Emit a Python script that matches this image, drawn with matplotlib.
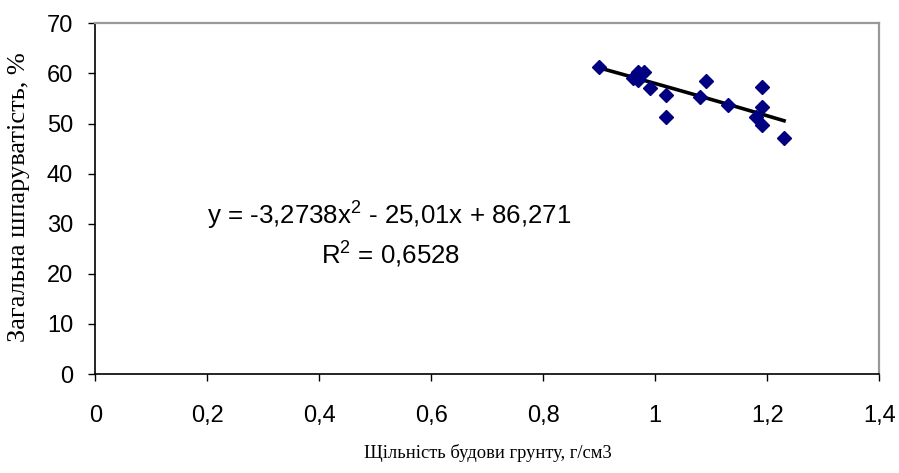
import numpy as np
import matplotlib.pyplot as plt

# щільність будови (г/см3) і загальна шпаруватість (%)
density = [0.90, 0.96, 0.97, 0.97, 0.98, 0.99, 1.02, 1.02, 1.08, 1.09,
           1.13, 1.18, 1.19, 1.19, 1.19, 1.23]
porosity = [61.3, 59.0, 58.6, 60.2, 60.2, 57.1, 55.7, 51.4, 55.3, 58.5,
            53.7, 51.4, 57.3, 53.3, 49.7, 47.2]

# коефіцієнти поліноміального тренду
coef = [-3.2738, -25.01, 86.271]
r2 = 0.6528

x_ticks = [0, 0.2, 0.4, 0.6, 0.8, 1, 1.2, 1.4]
x_labels = ['0', '0,2', '0,4', '0,6', '0,8', '1', '1,2', '1,4']
y_ticks = [0, 10, 20, 30, 40, 50, 60, 70]

plt.rcParams['mathtext.fontset'] = 'custom'
plt.rcParams['mathtext.rm'] = 'Liberation Sans'
plt.rcParams['mathtext.it'] = 'Liberation Sans'

fig = plt.figure(figsize=(8.99, 4.73), dpi=100)
ax = fig.add_axes([0.106, 0.2093, 0.872, 0.7414])

ax.plot(density, porosity, 'D', color='#000080', markersize=7, zorder=3)

xt = np.linspace(min(density), max(density), 50)
ax.plot(xt, np.polyval(coef, xt), color='black', lw=2.6, zorder=2)

ax.set_xlim(0, 1.4)
ax.set_ylim(0, 70)
ax.set_xticks(x_ticks)
ax.set_xticklabels(x_labels)
ax.set_yticks(y_ticks)
for lab in ax.get_xticklabels() + ax.get_yticklabels():
    lab.set_fontfamily('Liberation Sans')
    lab.set_fontsize(17)
ax.tick_params(axis='both', direction='out', length=5, width=1, color='black')
ax.tick_params(axis='x', pad=17)
ax.tick_params(axis='y', pad=11)

for side in ('top', 'right'):
    ax.spines[side].set_color('#999999')
    ax.spines[side].set_linewidth(1.6)
for side in ('left', 'bottom'):
    ax.spines[side].set_color('black')
    ax.spines[side].set_linewidth(1.2)

eq = 'y = -3,2738x$^2$ - 25,01x + 86,271'
ax.text(0.524, 31.5, eq, ha='center', va='center',
        fontsize=18.6, family='Liberation Sans')
ax.text(0.527, 23.8, f'R$^2$ = {str(r2).replace(".", ",")}', ha='center',
        va='center', fontsize=18.6, family='Liberation Sans')

fig.text(488 / 899, 1 - 458 / 473, 'Щільність будови грунту, г/см3',
         ha='center', va='baseline', fontsize=13.3, family='Liberation Serif')
fig.text(19 / 899, 1 - 342 / 473, 'Загальна шпаруватість, %',
         ha='center', va='bottom', rotation=90, fontsize=19,
         family='Liberation Serif')

fig.savefig('out.png', dpi=100)
